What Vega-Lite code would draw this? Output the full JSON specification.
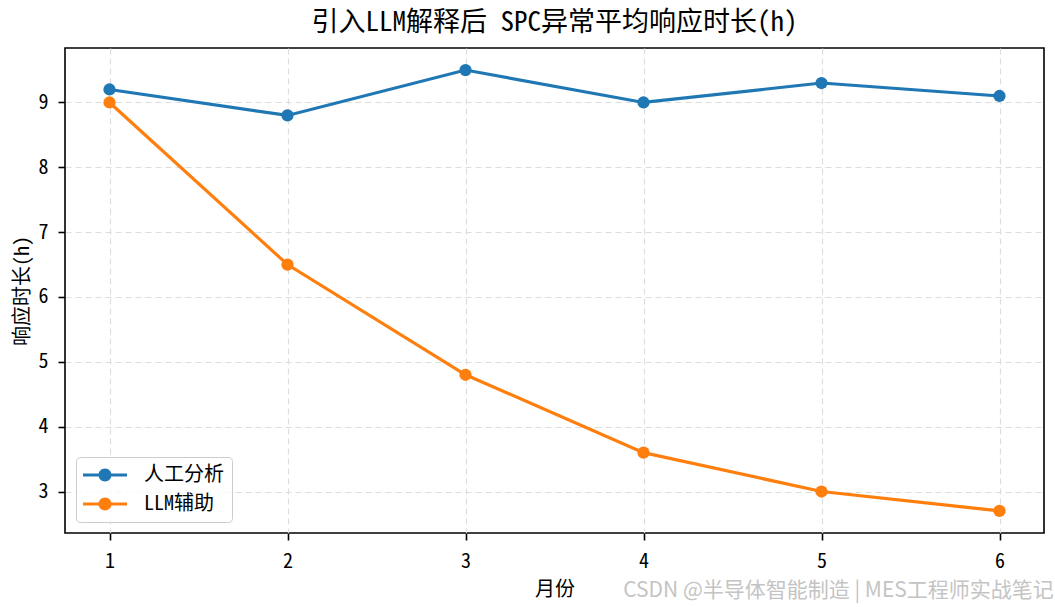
{
  "$schema": "https://vega.github.io/schema/vega-lite/v6.json",
  "padding": {"left": 11, "top": 8, "right": 3, "bottom": 4},
  "background": "white",
  "title": {
    "text": "CSDN @半导体智能制造 | MES工程师实战笔记",
    "orient": "bottom",
    "anchor": "end",
    "frame": "bounds",
    "offset": -20,
    "dx": 9,
    "font": "Noto Sans CJK SC",
    "fontSize": 21,
    "fontWeight": "normal",
    "color": "#c4c4c4"
  },
  "data": {
    "values": [
      {"month": 1, "series": "人工分析", "value": 9.2},
      {"month": 2, "series": "人工分析", "value": 8.8},
      {"month": 3, "series": "人工分析", "value": 9.5},
      {"month": 4, "series": "人工分析", "value": 9.0},
      {"month": 5, "series": "人工分析", "value": 9.3},
      {"month": 6, "series": "人工分析", "value": 9.1},
      {"month": 1, "series": "LLM辅助", "value": 9.0},
      {"month": 2, "series": "LLM辅助", "value": 6.5},
      {"month": 3, "series": "LLM辅助", "value": 4.8},
      {"month": 4, "series": "LLM辅助", "value": 3.6},
      {"month": 5, "series": "LLM辅助", "value": 3.0},
      {"month": 6, "series": "LLM辅助", "value": 2.7}
    ]
  },
  "resolve": {"legend": {"color": "independent"}, "scale": {"color": "independent"}},
  "vconcat": [
    {
      "width": 979,
      "height": 485,
      "title": {
        "text": "引入LLM解释后 SPC异常平均响应时长(h)",
        "anchor": "middle",
        "frame": "group",
        "offset": 11,
        "fontSize": 27,
        "fontWeight": "normal",
        "color": "black"
      },
      "encoding": {
        "x": {
          "field": "month",
          "type": "quantitative",
          "title": "月份",
          "scale": {"domain": [0.75, 6.25], "nice": false, "zero": false},
          "axis": {
            "values": [1, 2, 3, 4, 5, 6],
            "format": "d",
            "labelAngle": 0,
            "labelPadding": 11,
            "titlePadding": 8
          }
        },
        "y": {
          "field": "value",
          "type": "quantitative",
          "title": "响应时长(h)",
          "scale": {"domain": [2.36, 9.84], "nice": false, "zero": false},
          "axis": {
            "values": [3, 4, 5, 6, 7, 8, 9],
            "labelPadding": 10,
            "titlePadding": 6
          }
        },
        "color": {
          "field": "series",
          "type": "nominal",
          "scale": {
            "domain": ["人工分析", "LLM辅助"],
            "range": ["#1f77b4", "#ff7f0e"]
          },
          "legend": {
            "title": null,
            "orient": "bottom-left",
            "offset": 11,
            "symbolType": "M -2.2 -0.16 H 2.2 V 0.16 H -2.2 Z M 0.65 0 A 0.65 0.65 0 1 1 -0.65 0 A 0.65 0.65 0 1 1 0.65 0 Z",
            "symbolSize": 400,
            "symbolOffset": 11,
            "symbolStrokeWidth": 0,
            "symbolOpacity": 1,
            "labelFontSize": 20,
            "labelColor": "black",
            "labelOffset": 29,
            "padding": 8,
            "rowPadding": 9,
            "fillColor": "rgba(255,255,255,0.8)",
            "strokeColor": "#cccccc",
            "cornerRadius": 4,
            "encode": {
              "symbols": {
                "update": {
                  "fill": {"scale": "color", "field": "value"},
                  "strokeWidth": {"value": 0},
                  "opacity": {"value": 1}
                }
              }
            }
          }
        }
      },
      "layer": [
        {
          "mark": {"type": "line", "strokeWidth": 3.2}
        },
        {
          "mark": {"type": "point", "filled": true, "size": 150, "opacity": 1}
        }
      ]
    }
  ],
  "config": {
    "font": "Noto Sans Mono CJK SC, Noto Sans CJK SC",
    "view": {"stroke": "black", "strokeWidth": 1.6},
    "axis": {
      "domain": false,
      "grid": true,
      "gridColor": "#dddddd",
      "gridDash": [6, 4],
      "gridWidth": 1.2,
      "tickColor": "black",
      "tickWidth": 1.6,
      "tickSize": 7,
      "labelFontSize": 20,
      "labelColor": "black",
      "titleFontSize": 20,
      "titleFontWeight": "normal",
      "titleColor": "black"
    }
  }
}
